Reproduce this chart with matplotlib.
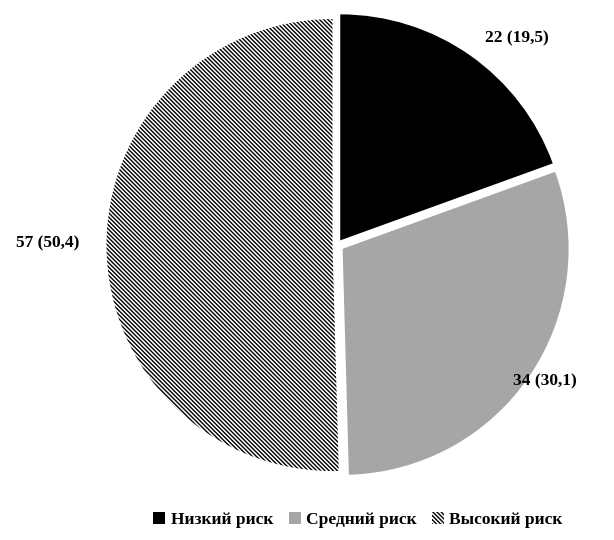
import numpy as np
import matplotlib
matplotlib.use("Agg")
import matplotlib.pyplot as plt

categories = ["Низкий риск", "Средний риск", "Высокий риск"]
counts = [22, 34, 57]
percents = ["19,5", "30,1", "50,4"]

plt.rcParams['font.family'] = ['Liberation Serif', 'DejaVu Serif']
plt.rcParams['hatch.linewidth'] = 1.0

fig = plt.figure(figsize=(6.14, 5.4), dpi=100)
R = 226
W, H = 614, 540
cx, cy = 337, 540 - 245
ax = fig.add_axes([(cx - 1.05 * R) / W, (cy - 1.05 * R) / H, 2.1 * R / W, 2.1 * R / H])

colors = ["#000000", "#a6a6a6", "#ffffff"]
hatches = [None, None, "\\\\\\\\\\\\\\\\"]
wedges, _ = ax.pie(counts, startangle=90, counterclock=False, colors=colors,
                   explode=[0.025, 0.03, 0.02],
                   wedgeprops=dict(linewidth=0, edgecolor="black"))
for w, h in zip(wedges, hatches):
    if h:
        w.set_hatch(h)
        w.set_edgecolor("black")
        w.set_linewidth(0)

dists = [1.21, 1.10, 1.28]
ang_shift = [-6.0, 1.0, -1.2]
for w, c, p, d, s in zip(wedges, counts, percents, dists, ang_shift):
    ang = np.deg2rad((w.theta1 + w.theta2) / 2 + s)
    ax.text(d * np.cos(ang), d * np.sin(ang), f"{c} ({p})", ha="center", va="center",
            fontsize=12.5, fontweight="bold")

ax.set_xlim(-1.05, 1.05)
ax.set_ylim(-1.05, 1.05)
ax.set_aspect("equal")
ax.axis("off")

leg = fig.legend(wedges, categories, loc="center", bbox_to_anchor=(358 / W, 1 - 520 / H),
                 ncol=3, frameon=False, handlelength=0.7, handleheight=0.7,
                 handletextpad=0.3, columnspacing=0.9,
                 prop=dict(family=['Liberation Serif', 'DejaVu Serif'], weight="bold", size=12.5))

fig.savefig("out.png", dpi=100)
